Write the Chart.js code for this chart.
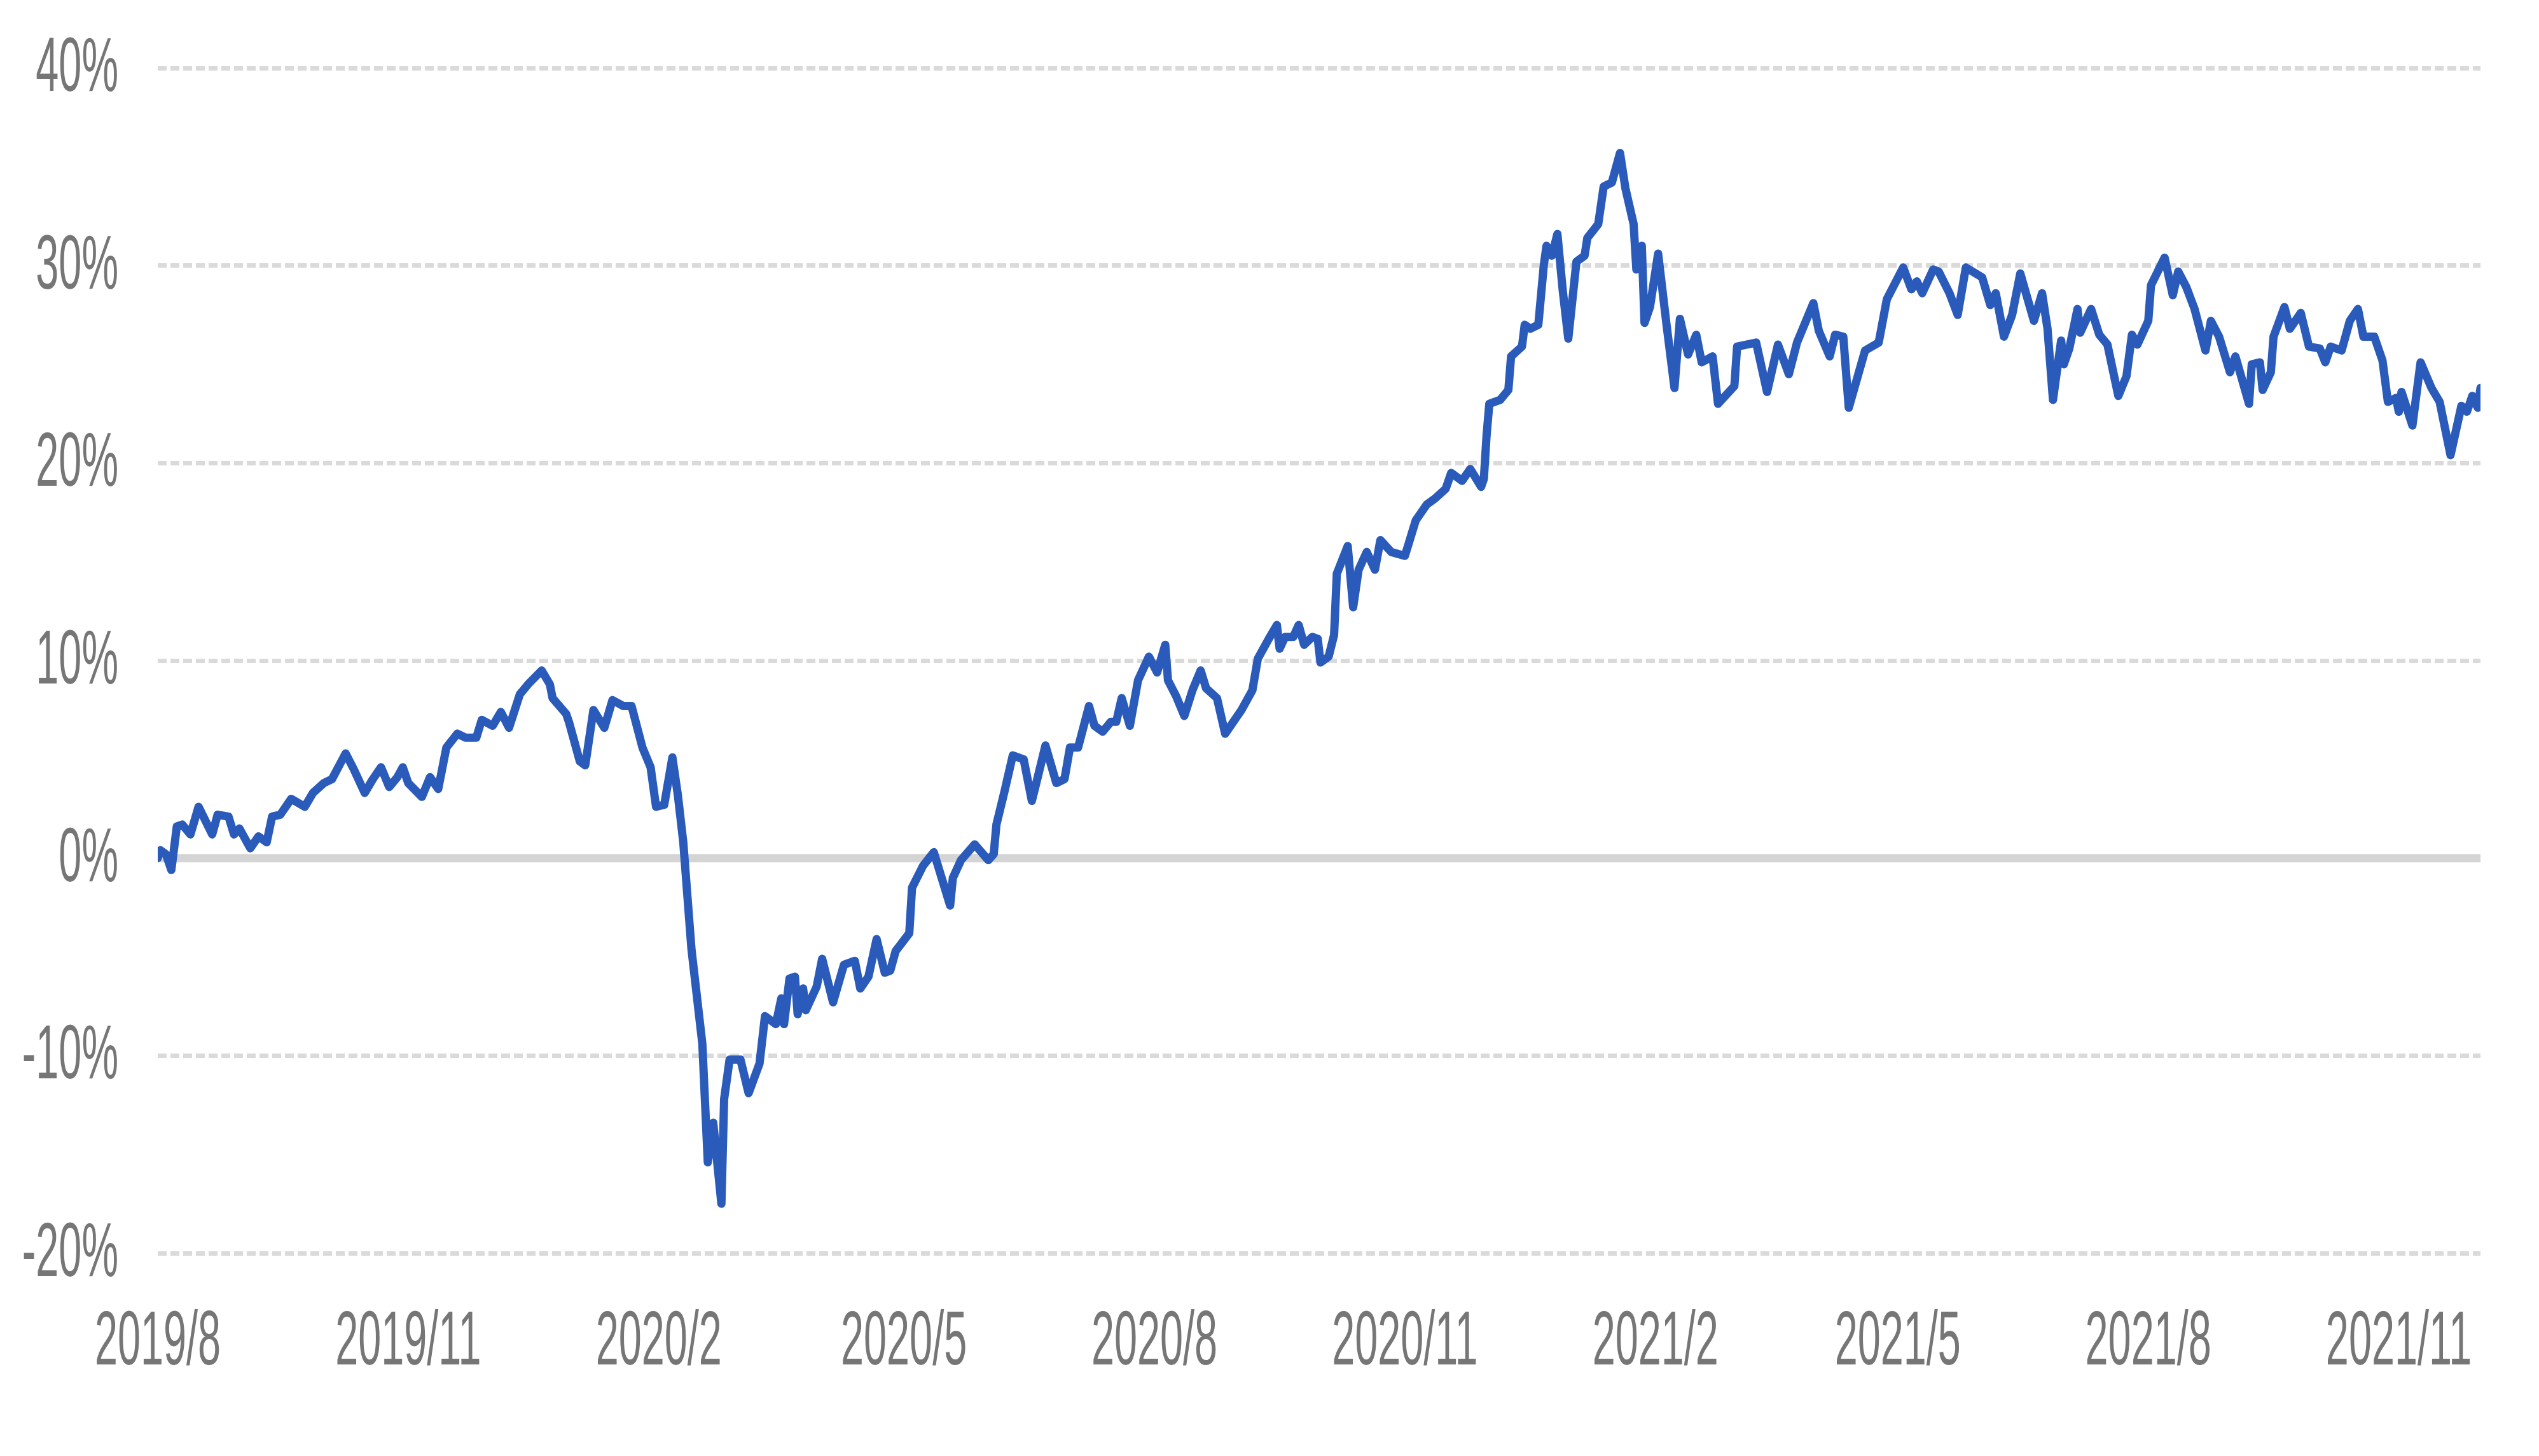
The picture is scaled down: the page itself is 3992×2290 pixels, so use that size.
<!DOCTYPE html>
<html>
<head>
<meta charset="utf-8">
<title>Rendimiento acumulado</title>
<script src="https://cdn.jsdelivr.net/npm/chart.js@4.4.1/dist/chart.umd.min.js"></script>
<style>
  html, body { margin: 0; padding: 0; background: #ffffff; }
  #grafico { display: block; }
</style>
</head>
<body>
<canvas id="grafico" width="3992" height="2290"></canvas>
<script>
// fecha de inicio de la serie (dia 0)
const fechaInicio = "2019-08-01";

// dias desde fechaInicio
const dias = [
  0, 1, 3, 5, 7, 9, 12, 15, 20, 22, 26, 28, 30, 34, 37, 40, 42, 45, 49, 54,
  57, 61, 64, 69, 72, 76, 79, 82, 85, 88, 90, 92, 97, 100, 103, 106, 110, 113, 117, 119,
  123, 126, 129, 133, 136, 141, 144, 145, 150, 151, 155, 157, 160, 164, 167, 171, 174, 178, 181, 183,
  186, 189, 191, 193, 196, 200, 202, 204, 207, 208, 210, 214, 217, 221, 223, 227, 229, 230, 232, 234,
  235, 237, 238, 242, 244, 248, 252, 256, 258, 261, 264, 267, 269, 271, 276, 277, 281, 285, 291, 292,
  295, 300, 305, 307, 308, 311, 314, 318, 321, 323, 326, 330, 333, 335, 338, 342, 344, 347, 350, 352,
  354, 357, 360, 364, 367, 370, 371, 374, 377, 380, 383, 385, 389, 390, 392, 398, 402, 404, 408, 411,
  412, 414, 417, 419, 421, 424, 426, 427, 430, 432, 433, 437, 439, 441, 444, 447, 449, 453, 458, 462,
  466, 469, 473, 475, 479, 482, 486, 487, 488, 489, 493, 496, 497, 501, 502, 504, 507, 509, 510, 512,
  514, 516, 518, 521, 524, 525, 529, 531, 534, 537, 539, 542, 543, 545, 546, 548, 551, 554, 557, 559,
  562, 565, 567, 571, 573, 579, 580, 587, 591, 595, 599, 602, 608, 610, 614, 616, 619, 621, 627, 632,
  635, 641, 644, 646, 648, 652, 654, 658, 661, 664, 670, 673, 675, 678, 681, 684, 689, 692, 694, 696,
  699, 700, 702, 705, 706, 710, 713, 716, 718, 720, 723, 725, 727, 731, 732, 737, 740, 742, 745, 748,
  752, 754, 757, 761, 763, 768, 769, 772, 773, 776, 777, 781, 783, 787, 790, 794, 796, 798, 802, 805,
  808, 810, 814, 817, 819, 822, 823, 824, 828, 831, 835, 838, 842, 846, 848, 850, 852, 853
];

// rendimiento acumulado en %
const rendimiento = [
  0.0, 0.4, 0.2, -0.6, 1.6, 1.7, 1.2, 2.6, 1.2, 2.2, 2.1, 1.2, 1.5, 0.5, 1.1, 0.8, 2.1, 2.2, 3.0, 2.6,
  3.3, 3.8, 4.0, 5.3, 4.5, 3.3, 4.0, 4.6, 3.6, 4.1, 4.6, 3.8, 3.1, 4.1, 3.5, 5.6, 6.3, 6.1, 6.1, 7.0,
  6.7, 7.4, 6.6, 8.3, 8.8, 9.5, 8.8, 8.1, 7.3, 6.9, 4.9, 4.7, 7.5, 6.6, 8.0, 7.7, 7.7, 5.6, 4.6, 2.6,
  2.7, 5.1, 3.2, 0.8, -4.6, -9.4, -15.4, -13.4, -17.5, -12.2, -10.2, -10.2, -11.9, -10.4, -8.0, -8.4, -7.1, -8.4, -6.1, -6.0,
  -7.9, -6.6, -7.7, -6.5, -5.1, -7.3, -5.4, -5.2, -6.6, -6.0, -4.1, -5.8, -5.7, -4.7, -3.8, -1.5, -0.4, 0.3, -2.4, -1.0,
  -0.1, 0.7, -0.1, 0.2, 1.7, 3.4, 5.2, 5.0, 2.9, 4.0, 5.7, 3.8, 4.0, 5.6, 5.6, 7.7, 6.7, 6.4, 6.9, 6.9,
  8.1, 6.7, 9.0, 10.2, 9.4, 10.8, 9.0, 8.2, 7.2, 8.5, 9.5, 8.6, 8.1, 7.5, 6.3, 7.5, 8.5, 10.1, 11.1, 11.8,
  10.6, 11.2, 11.2, 11.8, 10.8, 11.2, 11.1, 9.9, 10.2, 11.3, 14.4, 15.8, 12.7, 14.6, 15.5, 14.6, 16.1, 15.5, 15.3, 17.1,
  17.9, 18.2, 18.7, 19.5, 19.1, 19.7, 18.8, 19.2, 21.4, 23.0, 23.2, 23.7, 25.4, 25.9, 27.0, 26.8, 27.0, 30.0, 31.0, 30.5,
  31.6, 28.7, 26.3, 30.2, 30.5, 31.4, 32.1, 34.0, 34.2, 35.7, 33.9, 32.1, 29.8, 31.0, 27.1, 27.9, 30.6, 27.1, 23.8, 27.3,
  25.5, 26.5, 25.1, 25.4, 23.0, 23.9, 25.9, 26.1, 23.6, 26.0, 24.5, 26.1, 28.1, 26.7, 25.4, 26.5, 26.4, 22.8, 25.7, 26.1,
  28.3, 29.9, 28.8, 29.2, 28.6, 29.8, 29.7, 28.6, 27.5, 29.9, 29.4, 28.0, 28.6, 26.4, 27.5, 29.6, 27.2, 28.6, 26.8, 23.2,
  26.2, 25.0, 25.8, 27.8, 26.6, 27.8, 26.5, 26.0, 24.7, 23.4, 24.4, 26.5, 26.0, 27.2, 29.0, 30.4, 28.5, 29.7, 28.9, 27.8,
  25.7, 27.2, 26.4, 24.6, 25.4, 23.0, 25.0, 25.1, 23.7, 24.6, 26.4, 27.9, 26.8, 27.6, 25.9, 25.8, 25.1, 25.9, 25.7, 27.2,
  27.8, 26.4, 26.4, 25.2, 23.1, 23.3, 22.6, 23.6, 21.9, 25.1, 23.8, 23.1, 20.4, 22.9, 22.6, 23.4, 22.8, 23.8
];

// etiquetas del eje x (cada 3 meses)
const etiquetasX = ["2019/8", "2019/11", "2020/2", "2020/5", "2020/8", "2020/11", "2021/2", "2021/5", "2021/8", "2021/11"];

// eje y en %
const ticksY = [-20, -10, 0, 10, 20, 30, 40];

const MS_DIA = 86400000;
const t0 = Date.parse(fechaInicio + "T00:00:00Z");
// "2020/5" -> dias desde el inicio
const diaDeEtiqueta = (txt) => {
  const [anio, mes] = txt.split("/").map(Number);
  return Math.round((Date.UTC(anio, mes - 1, 1) - t0) / MS_DIA);
};

const puntos = dias.map((d, i) => ({ x: d, y: rendimiento[i] }));

const colorTexto = "#767676";
const fuente = '120px "Liberation Sans", Arial, sans-serif';
const angosto = 0.54; // el texto del original esta comprimido a lo ancho

// linea del cero mas gruesa y continua
const lineaCero = {
  id: "lineaCero",
  beforeDatasetsDraw(chart) {
    const { ctx, chartArea, scales } = chart;
    const y0 = scales.y.getPixelForValue(0);
    ctx.save();
    ctx.strokeStyle = "#d4d4d4";
    ctx.lineWidth = 13;
    ctx.beginPath();
    ctx.moveTo(chartArea.left, y0);
    ctx.lineTo(chartArea.right, y0);
    ctx.stroke();
    ctx.restore();
  },
};

// etiquetas de los ejes dibujadas a mano para poder angostarlas
const etiquetas = {
  id: "etiquetas",
  afterDraw(chart) {
    const { ctx, scales } = chart;
    ctx.save();
    ctx.fillStyle = colorTexto;
    ctx.font = fuente;
    ctx.textBaseline = "alphabetic";

    ticksY.forEach((v) => {
      const y = scales.y.getPixelForValue(v);
      ctx.save();
      ctx.translate(186, y + 36);
      ctx.scale(angosto, 1);
      ctx.textAlign = "right";
      ctx.fillText(v + "%", 0, 0);
      ctx.restore();
    });

    etiquetasX.forEach((txt) => {
      const x = scales.x.getPixelForValue(diaDeEtiqueta(txt));
      ctx.save();
      ctx.translate(x, 2146);
      ctx.scale(angosto, 1);
      ctx.textAlign = "center";
      ctx.fillText(txt, 0, 0);
      ctx.restore();
    });
    ctx.restore();
  },
};

const config = {
  type: "line",
  data: {
    datasets: [
      {
        label: "Rendimiento",
        data: puntos,
        borderColor: "#2a5bba",
        borderWidth: 13,
        borderJoinStyle: "round",
        borderCapStyle: "round",
        pointRadius: 0,
        tension: 0,
        fill: false,
      },
    ],
  },
  options: {
    responsive: false,
    devicePixelRatio: 1,
    animation: false,
    layout: { padding: { left: 248, right: 92, top: 107, bottom: 319 } },
    plugins: {
      legend: { display: false },
      tooltip: { enabled: false },
    },
    scales: {
      x: {
        type: "linear",
        min: 0,
        max: dias[dias.length - 1],
        ticks: { display: false },
        grid: { display: false },
        border: { display: false },
        afterFit: (s) => { s.height = 0; },
      },
      y: {
        min: -20,
        max: 40,
        ticks: { display: false, stepSize: 10 },
        grid: { color: "#dadada", lineWidth: 7, drawTicks: false },
        border: { display: false, dash: [14, 6] },
        afterFit: (s) => { s.width = 0; },
      },
    },
  },
  plugins: [lineaCero, etiquetas],
};

const elemento = document.getElementById("grafico");
var grafico = new Chart(elemento, config);
</script>
</body>
</html>
